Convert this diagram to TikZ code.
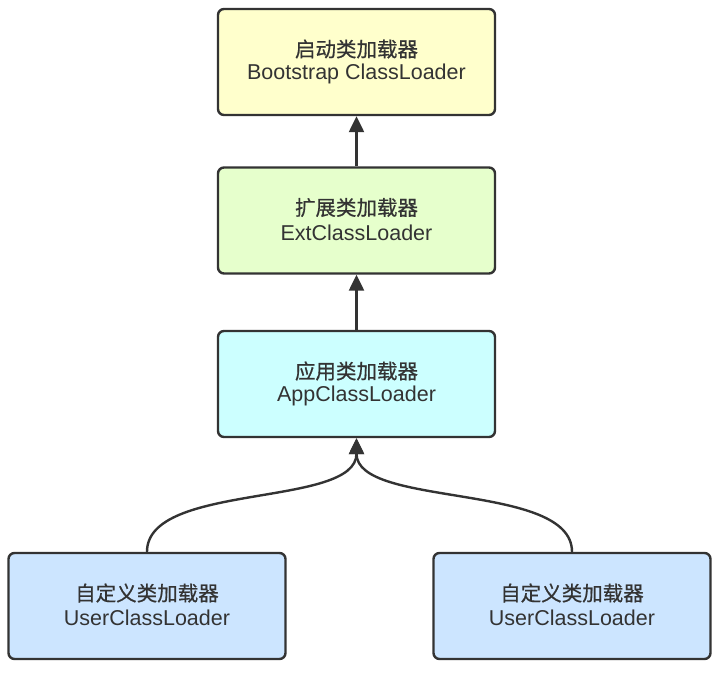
\documentclass[tikz,border=0pt]{standalone}
\usepackage{fontspec}
\setmainfont{Liberation Sans}
\newfontfamily\cjk[FakeBold=0.6]{Noto Sans CJK SC}
\usetikzlibrary{arrows.meta}
\definecolor{ink}{HTML}{333333}
\definecolor{cyellow}{HTML}{FFFFCC}
\definecolor{cgreen}{HTML}{E6FFCC}
\definecolor{ccyan}{HTML}{CCFFFF}
\definecolor{cblue}{HTML}{CCE5FF}
\tikzset{
  loader/.style={draw=ink, line width=2.4pt, rounded corners=6pt, minimum width=277pt, minimum height=106pt, align=center, text=ink, inner sep=0pt},
  zh/.style={font=\cjk\fontsize{20.5}{24}\selectfont, text=ink},
  en/.style={font=\fontsize{21.5}{24}\selectfont, text=ink},
  link/.style={draw=ink, line width=2.4pt, -{Triangle[length=16pt,width=15pt]}}
}
\begin{document}
\begin{tikzpicture}[x=1pt,y=-1pt]
\useasboundingbox (0,0) rectangle (721,675);
\node[loader, fill=cyellow] (boot) at (356.5,62) {};
\node[loader, fill=cgreen] (ext) at (356.5,220.5) {};
\node[loader, fill=ccyan] (app) at (356.5,384) {};
\node[loader, fill=cblue] (u1) at (147,606) {};
\node[loader, fill=cblue] (u2) at (572,606) {};
\foreach \n/\z/\e in {boot/启动类加载器/Bootstrap ClassLoader, ext/扩展类加载器/ExtClassLoader, app/应用类加载器/AppClassLoader, u1/自定义类加载器/UserClassLoader, u2/自定义类加载器/UserClassLoader}{
  \node[zh] (\n-zh) at ([yshift=13pt]\n.center) {\z};
  \node[en] (\n-en) at ([yshift=-12pt]\n.center) {\e};
}
\draw[link] (ext.north) -- (boot.south);
\draw[link] (app.north) -- (ext.south);
\draw[link] (u1.north) .. controls ([yshift=70pt]u1.north) and ([yshift=-70pt]app.south) .. (app.south);
\draw[link] (u2.north) .. controls ([yshift=70pt]u2.north) and ([yshift=-70pt]app.south) .. (app.south);
\end{tikzpicture}
\end{document}
